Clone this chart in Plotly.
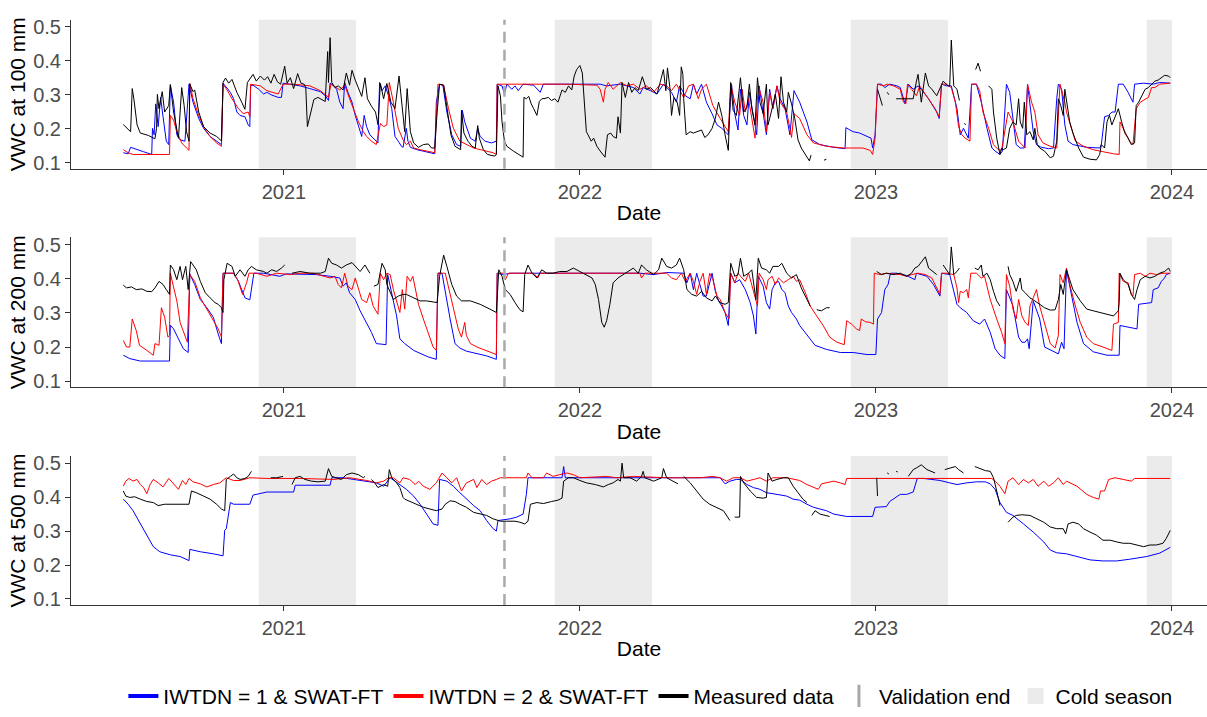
import pandas as pd
import plotly.graph_objects as go

# ---------------- data ----------------
START_DATE = pd.Timestamp("2020-06-17")   # day 0 of every series below

depth_labels = ["VWC at 100 mm", "VWC at 200 mm", "VWC at 500 mm"]
series_names = ["IWTDN = 1 & SWAT-FT", "IWTDN = 2 & SWAT-FT", "Measured data"]
year_ticks = ["2021-01-01", "2022-01-01", "2023-01-01", "2024-01-01"]
year_labels = ["2021", "2022", "2023", "2024"]
vwc_ticks = [0.1, 0.2, 0.3, 0.4, 0.5]
vwc_labels = ["0.1", "0.2", "0.3", "0.4", "0.5"]
cold_start = ["2020-12-01", "2021-12-01", "2022-12-01", "2023-12-01"]
cold_end = ["2021-03-31", "2022-03-31", "2023-03-31", "2024-01-01"]
validation_end = "2021-09-30"

# (day since START_DATE, VWC); None marks a gap
p1_iwtdn1 = [(0,.129),(6,.126),(9,.145),(16,.140),(25,.132),(35,.124),(36,.201),(38,.182),(40,.273),(43,.206),(46,.292),(49,.235),(53,.163),(56,.153),(58,.328),(62,.278),(66,.182),(70,.167),(76,.163),(81,.331),(86,.278),(93,.230),(99,.201),(107,.177),(115,.163),(121,.153),(123,.334),(128,.318),(132,.307),(136,.288),(140,.249),(144,.239),(150,.235),(154,.211),(156,.206),(157,.326),(160,.328),(167,.316),(173,.302),(177,.307),(183,.299),(191,.292),(195,.292),(197,.334),(206,.331),(218,.326),(230,.318),(243,.309),(249,.297),(253,.283),(255,.334),(259,.328),(263,.316),(267,.278),(271,.259),(273,.336),(277,.307),(282,.278),(286,.239),(290,.211),(294,.177),(297,.239),(300,.206),(304,.182),(310,.167),(314,.158),(316,.336),(319,.312),(323,.326),(327,.297),(331,.259),(335,.177),(339,.163),(343,.148),(345,.145),(349,.201),(351,.163),(354,.145),(362,.138),(370,.134),(378,.129),(384,.126),(386,.278),(390,.331),(394,.328),(399,.249),(405,.182),(411,.153),(416,.148),(418,.254),(421,.220),(428,.172),(434,.163),(437,.201),(440,.177),(446,.163),(454,.158),(460,.163),(461,.331),(467,.326),(470,.302),(473,.331),(479,.316),(483,.326),(487,.312),(493,.331),(506,.328),(514,.307),(518,.331),(530,.331),(563,.331),(588,.331),(596,.326),(604,.328),(613,.331),(621,.326),(629,.321),(637,.302),(641,.321),(650,.312),(658,.302),(666,.331),(670,.321),(676,.307),(682,.278),(686,.326),(693,.297),(699,.288),(703,.331),(707,.302),(713,.331),(719,.278),(726,.244),(732,.211),(738,.201),(746,.182),(750,.331),(754,.244),(758,.196),(761,.316),(765,.239),(769,.211),(772,.307),(777,.239),(781,.182),(784,.326),(789,.249),(793,.182),(797,.316),(801,.259),(806,.326),(810,.288),(816,.259),(822,.182),(827,.312),(834,.278),(843,.220),(849,.167),(859,.153),(876,.145),(890,.141),(891,.203),(896,.196),(900,.191),(908,.187),(917,.177),(922,.172),(924,.143),(927,.182),(930,.331),(935,.331),(939,.321),(945,.331),(954,.326),(958,.321),(964,.273),(968,.331),(974,.316),(980,.326),(984,.316),(993,.288),(1003,.249),(1006,.230),(1009,.331),(1015,.326),(1021,.326),(1028,.259),(1032,.182),(1036,.201),(1042,.172),(1046,.331),(1052,.331),(1058,.278),(1065,.201),(1071,.143),(1075,.134),(1081,.124),(1084,.134),(1089,.331),(1093,.307),(1097,.235),(1101,.153),(1106,.143),(1111,.143),(1115,.331),(1119,.259),(1122,.191),(1126,.153),(1132,.145),(1141,.141),(1147,.143),(1151,.288),(1153,.331),(1157,.316),(1161,.211),(1165,.163),(1171,.153),(1188,.145),(1204,.143),(1206,.153),(1210,.235),(1215,.239),(1219,.249),(1223,.249),(1227,.331),(1233,.331),(1239,.307),(1245,.278),(1247,.331),(1258,.334),(1270,.331),(1278,.336),(1291,.334)]

p1_iwtdn2 = [(0,.138),(6,.129),(12,.124),(57,.124),(58,.239),(62,.225),(66,.191),(72,.158),(78,.143),(81,.136),(82,.334),(86,.288),(93,.239),(99,.206),(107,.177),(115,.158),(121,.148),(123,.331),(128,.314),(134,.288),(142,.259),(148,.244),(154,.249),(156,.235),(157,.331),(169,.326),(177,.312),(183,.307),(191,.302),(197,.331),(210,.331),(230,.326),(243,.312),(253,.292),(256,.331),(267,.314),(273,.328),(279,.288),(284,.259),(290,.220),(296,.191),(300,.177),(306,.163),(312,.153),(317,.215),(321,.206),(325,.211),(328,.336),(333,.278),(339,.201),(345,.167),(349,.153),(354,.163),(358,.143),(366,.138),(374,.134),(384,.129),(388,.331),(395,.328),(401,.259),(407,.201),(415,.163),(423,.153),(432,.143),(444,.136),(456,.129),(460,.124),(461,.331),(547,.331),(584,.328),(588,.316),(592,.278),(594,.316),(598,.336),(604,.316),(613,.336),(621,.326),(629,.331),(637,.316),(645,.326),(654,.307),(662,.331),(670,.326),(676,.312),(682,.331),(691,.292),(697,.326),(703,.331),(709,.288),(713,.316),(719,.331),(727,.268),(736,.230),(742,.206),(746,.191),(749,.331),(754,.278),(760,.239),(763,.316),(767,.249),(771,.288),(775,.230),(779,.172),(783,.326),(789,.278),(793,.191),(797,.307),(801,.259),(806,.326),(810,.278),(818,.249),(822,.201),(824,.174),(827,.244),(834,.230),(843,.182),(851,.158),(867,.148),(888,.143),(912,.143),(921,.136),(924,.124),(927,.172),(930,.331),(937,.326),(942,.331),(950,.326),(958,.316),(962,.278),(965,.273),(967,.331),(972,.316),(978,.297),(982,.326),(986,.312),(995,.278),(1001,.259),(1006,.235),(1009,.331),(1015,.331),(1021,.321),(1026,.278),(1030,.206),(1034,.182),(1038,.172),(1044,.163),(1046,.331),(1052,.331),(1056,.312),(1060,.249),(1067,.201),(1073,.153),(1079,.138),(1083,.136),(1091,.249),(1097,.220),(1104,.163),(1112,.143),(1115,.331),(1120,.278),(1124,.249),(1128,.182),(1134,.158),(1143,.148),(1151,.143),(1155,.331),(1161,.278),(1163,.249),(1167,.220),(1174,.163),(1184,.148),(1196,.138),(1204,.134),(1213,.129),(1221,.126),(1228,.124),(1229,.220),(1235,.191),(1241,.163),(1245,.153),(1249,.259),(1254,.278),(1260,.288),(1264,.292),(1268,.321),(1272,.321),(1278,.331),(1291,.334)]

p1_measured = [(0,.212),(6,.196),(9,.191),(11,.318),(13,.288),(17,.211),(21,.187),(31,.180),(39,.170),(41,.201),(42,.301),(44,.259),(48,.309),(51,.249),(56,.268),(58,.330),(62,.249),(68,.172),(72,.321),(75,.268),(78,.191),(81,.163),(82,.331),(86,.309),(88,.314),(93,.249),(99,.206),(107,.187),(115,.177),(121,.164),(123,.336),(126,.349),(130,.334),(134,.345),(140,.307),(146,.278),(150,.257),(153,.336),(160,.360),(164,.340),(169,.355),(174,.343),(178,.353),(182,.334),(186,.360),(190,.338),(194,.331),(199,.384),(202,.334),(206,.350),(210,.318),(215,.362),(219,.334),(223,.331),(225,.321),(227,.206),(231,.244),(235,.286),(240,.292),(245,.286),(249,.280),(252,.427),(253,.336),(255,.468),(257,.336),(261,.321),(265,.326),(271,.314),(275,.364),(279,.328),(282,.372),(286,.343),(290,.318),(294,.295),(298,.350),(301,.288),(306,.266),(311,.249),(314,.212),(317,.333),(321,.288),(325,.333),(330,.278),(335,.259),(340,.355),(345,.244),(347,.191),(350,.318),(354,.191),(358,.158),(364,.145),(370,.153),(376,.155),(380,.143),(384,.143),(387,.249),(390,.331),(395,.328),(399,.259),(404,.182),(409,.148),(416,.138),(417,.254),(420,.187),(425,.163),(430,.148),(434,.143),(437,.209),(439,.172),(444,.138),(449,.124),(454,.122),(458,.119),(460,.124),(462,.326),(465,.297),(467,.220),(470,.163),(473,.148),(481,.134),(487,.124),(493,.116),(494,.292),(497,.288),(500,.295),(503,.273),(506,.259),(510,.239),(513,.280),(516,.288),(520,.289),(524,.292),(528,.283),(532,.288),(536,.278),(541,.314),(545,.307),(549,.326),(553,.314),(556,.355),(559,.374),(563,.386),(566,.364),(569,.259),(571,.191),(573,.182),(577,.163),(580,.172),(584,.148),(588,.134),(592,.122),(594,.116),(597,.182),(601,.187),(604,.177),(608,.172),(610,.235),(613,.187),(615,.336),(619,.292),(623,.336),(627,.307),(631,.321),(635,.312),(640,.353),(645,.316),(650,.321),(654,.312),(658,.302),(662,.336),(666,.374),(669,.312),(671,.379),(674,.321),(676,.239),(679,.292),(683,.278),(686,.239),(688,.382),(690,.360),(691,.288),(694,.182),(699,.191),(703,.187),(708,.191),(713,.196),(717,.174),(721,.182),(726,.201),(730,.230),(734,.278),(738,.239),(742,.182),(746,.136),(749,.336),(752,.254),(756,.239),(760,.326),(761,.350),(765,.249),(769,.263),(772,.331),(775,.259),(779,.211),(782,.350),(785,.278),(789,.244),(793,.331),(795,.211),(800,.259),(804,.302),(808,.230),(811,.353),(814,.278),(818,.249),(820,.307),(824,.273),(828,.230),(832,.167),(836,.143),(841,.124),(846,.105),(848,.122),(849,None),(864,.107),(867,.110),(868,None),(930,.316),(936,.268),(937,None),(942,.307),(944,.300),(945,None),(953,.288),(974,.288),(978,.340),(980,.360),(984,.278),(989,.364),(993,.326),(997,.316),(1003,.297),(1011,.340),(1017,.326),(1019,.326),(1021,.461),(1024,.326),(1028,.316),(1031,.283),(1032,None),(1037,.215),(1039,.212),(1040,None),(1051,.374),(1054,.393),(1057,.369),(1058,None),(1067,.326),(1071,.316),(1073,.249),(1077,.172),(1081,.124),(1083,.143),(1085,.138),(1089,.143),(1093,.201),(1097,.220),(1101,.211),(1104,.288),(1106,.220),(1109,.201),(1111,.278),(1114,.182),(1118,.191),(1122,.167),(1124,.201),(1127,.153),(1130,.143),(1136,.134),(1143,.114),(1147,.119),(1151,.163),(1153,.288),(1156,.268),(1159,.239),(1161,.316),(1163,.278),(1167,.220),(1171,.187),(1178,.143),(1184,.116),(1192,.110),(1200,.108),(1204,.124),(1206,.153),(1210,.143),(1213,.220),(1216,.239),(1219,.211),(1223,.235),(1227,.259),(1231,.220),(1235,.187),(1239,.172),(1243,.153),(1247,.158),(1249,.268),(1252,.278),(1256,.297),(1260,.316),(1264,.321),(1268,.331),(1272,.340),(1276,.343),(1280,.350),(1284,.357),(1289,.355),(1291,.350)]

p2_iwtdn1 = [(0,.176),(8,.166),(21,.159),(57,.159),(58,.264),(62,.253),(68,.224),(74,.195),(80,.184),(82,.414),(88,.383),(95,.339),(103,.315),(111,.287),(117,.238),(121,.210),(123,.416),(136,.416),(142,.392),(150,.344),(156,.338),(161,.416),(173,.416),(181,.412),(193,.407),(201,.414),(218,.413),(238,.412),(255,.407),(267,.402),(271,.378),(275,.388),(279,.359),(286,.339),(292,.306),(300,.272),(306,.243),(312,.210),(324,.207),(326,.412),(331,.359),(337,.291),(341,.224),(347,.210),(358,.190),(366,.181),(376,.171),(386,.164),(388,.416),(393,.416),(399,.330),(403,.282),(409,.210),(415,.197),(423,.188),(436,.181),(448,.174),(460,.164),(461,.416),(469,.412),(477,.416),(588,.416),(637,.416),(654,.412),(670,.418),(691,.416),(695,.388),(699,.416),(703,.368),(707,.416),(711,.378),(715,.349),(719,.349),(726,.416),(730,.363),(734,.335),(738,.320),(742,.301),(746,.263),(749,.416),(754,.388),(760,.397),(767,.368),(773,.330),(777,.291),(780,.238),(783,.407),(789,.378),(793,.330),(797,.311),(800,.368),(804,.388),(808,.392),(812,.368),(816,.359),(820,.320),(824,.301),(830,.282),(834,.263),(843,.234),(853,.205),(867,.193),(884,.184),(900,.184),(917,.178),(928,.178),(930,.282),(935,.301),(939,.368),(943,.383),(946,.416),(954,.416),(966,.409),(976,.397),(978,.416),(991,.407),(999,.383),(1007,.349),(1009,.416),(1019,.412),(1028,.325),(1032,.315),(1040,.301),(1048,.277),(1056,.267),(1062,.282),(1069,.243),(1075,.195),(1081,.176),(1087,.166),(1089,.368),(1097,.320),(1104,.229),(1108,.214),(1112,.214),(1115,.224),(1117,.195),(1122,.335),(1130,.282),(1136,.200),(1147,.186),(1153,.180),(1157,.214),(1160,.195),(1163,.426),(1169,.359),(1176,.272),(1184,.210),(1196,.186),(1213,.176),(1228,.176),(1229,.263),(1239,.258),(1250,.253),(1252,.325),(1268,.330),(1270,.368),(1276,.373),(1280,.392),(1284,.402),(1286,.412),(1291,.416)]

p2_iwtdn2 = [(0,.219),(4,.200),(8,.200),(11,.282),(16,.248),(20,.205),(29,.190),(37,.176),(39,.210),(44,.205),(47,.315),(51,.287),(55,.229),(57,.234),(58,.416),(62,.378),(66,.335),(70,.272),(74,.248),(79,.214),(82,.412),(88,.392),(95,.344),(103,.311),(111,.282),(117,.253),(121,.229),(123,.416),(136,.416),(141,.397),(147,.354),(152,.388),(155,.416),(164,.416),(177,.407),(189,.416),(206,.412),(218,.416),(234,.416),(249,.407),(255,.402),(261,.407),(265,.383),(269,.373),(273,.416),(277,.378),(282,.368),(286,.402),(290,.368),(294,.339),(300,.330),(304,.359),(308,.320),(314,.296),(317,.416),(321,.397),(325,.416),(329,.412),(333,.368),(338,.325),(341,.301),(344,.368),(347,.311),(350,.407),(354,.392),(357,.407),(360,.368),(364,.325),(370,.282),(376,.243),(382,.200),(386,.190),(388,.416),(397,.416),(403,.354),(409,.291),(413,.253),(417,.229),(421,.272),(423,.234),(428,.210),(436,.200),(448,.190),(460,.178),(461,.416),(469,.416),(471,.397),(475,.416),(506,.416),(511,.402),(514,.416),(637,.416),(639,.402),(643,.416),(670,.416),(676,.402),(682,.397),(688,.416),(693,.392),(699,.416),(703,.392),(707,.354),(711,.392),(715,.416),(719,.354),(723,.416),(727,.397),(732,.349),(736,.339),(742,.301),(747,.282),(749,.416),(754,.388),(758,.416),(763,.402),(767,.392),(771,.416),(777,.359),(782,.320),(784,.416),(789,.397),(793,.368),(795,.397),(800,.407),(804,.383),(808,.402),(814,.388),(820,.397),(826,.407),(830,.392),(834,.397),(841,.359),(847,.320),(855,.291),(863,.263),(871,.229),(880,.214),(889,.207),(892,.277),(898,.267),(904,.253),(908,.248),(910,.282),(915,.274),(921,.272),(925,.267),(926,.416),(933,.412),(941,.416),(958,.412),(966,.407),(972,.412),(980,.416),(989,.412),(997,.402),(1003,.373),(1007,.354),(1009,.416),(1015,.416),(1024,.412),(1028,.373),(1030,.330),(1032,.363),(1036,.359),(1040,.368),(1042,.344),(1045,.416),(1052,.416),(1058,.402),(1062,.407),(1069,.339),(1077,.282),(1083,.243),(1087,.210),(1089,.412),(1093,.378),(1097,.311),(1101,.282),(1104,.339),(1108,.291),(1112,.272),(1116,.263),(1118,.320),(1122,.344),(1126,.368),(1130,.320),(1136,.272),(1143,.210),(1149,.197),(1153,.234),(1155,.412),(1159,.388),(1163,.431),(1167,.383),(1174,.320),(1180,.272),(1188,.229),(1196,.210),(1208,.200),(1219,.190),(1221,.267),(1227,.272),(1228,.416),(1233,.392),(1239,.388),(1243,.354),(1245,.349),(1247,.412),(1254,.416),(1260,.407),(1266,.416),(1274,.412),(1282,.416),(1291,.416)]

p2_measured = [(0,.381),(4,.373),(10,.376),(16,.368),(23,.370),(29,.363),(35,.362),(39,.373),(44,.392),(49,.383),(53,.368),(57,.354),(58,.440),(62,.426),(66,.397),(70,.436),(73,.397),(77,.436),(80,.368),(83,.450),(86,.440),(90,.426),(95,.392),(101,.359),(107,.344),(113,.330),(117,.325),(121,.315),(123,.301),(124,.397),(128,.445),(134,.436),(138,.407),(144,.426),(150,.407),(154,.426),(158,.436),(164,.426),(173,.421),(177,.416),(183,.426),(189,.421),(195,.431),(199,.440),(200,None),(208,.416),(218,.421),(230,.416),(243,.416),(249,.421),(253,.460),(257,.445),(263,.440),(269,.431),(275,.440),(282,.447),(286,.436),(292,.421),(298,.440),(304,.416),(305,None),(309,.378),(314,.383),(319,.445),(323,.426),(325,.383),(329,.359),(333,.339),(339,.349),(345,.354),(349,.354),(358,.344),(366,.335),(374,.335),(382,.332),(387,.330),(390,.407),(395,.469),(399,.436),(405,.383),(411,.349),(417,.335),(428,.335),(440,.325),(452,.311),(460,.301),(463,.426),(467,.407),(471,.368),(477,.354),(483,.330),(489,.309),(493,.303),(495,.412),(499,.440),(504,.416),(510,.402),(516,.426),(522,.416),(530,.416),(538,.421),(547,.421),(555,.431),(563,.421),(571,.412),(578,.402),(582,.383),(586,.339),(590,.272),(593,.258),(596,.277),(600,.325),(604,.388),(610,.402),(619,.416),(629,.431),(635,.416),(639,.440),(645,.426),(654,.412),(660,.426),(664,.460),(670,.436),(676,.431),(682,.440),(686,.460),(691,.426),(695,.368),(701,.354),(707,.349),(713,.363),(719,.344),(726,.335),(730,.349),(736,.330),(742,.325),(746,.330),(749,.445),(754,.407),(758,.412),(761,.460),(765,.407),(771,.416),(775,.426),(780,.339),(783,.460),(787,.431),(793,.426),(797,.416),(801,.436),(808,.436),(812,.445),(818,.416),(824,.402),(830,.412),(836,.373),(843,.339),(847,.320),(848,None),(855,.309),(861,.306),(867,.315),(871,.315),(872,None),(929,.421),(935,.412),(941,.416),(949,.412),(958,.416),(966,.407),(972,.416),(976,.431),(980,.436),(984,.450),(989,.464),(993,.431),(999,.421),(1003,.412),(1004,None),(1011,.440),(1015,.426),(1019,.412),(1021,.493),(1024,.412),(1028,.421),(1031,.431),(1032,None),(1050,.431),(1054,.426),(1058,.440),(1060,.407),(1065,.416),(1069,.397),(1073,.363),(1077,.335),(1081,.320),(1082,None),(1091,.436),(1093,.412),(1097,.392),(1101,.363),(1106,.402),(1108,.368),(1112,.359),(1118,.344),(1124,.335),(1130,.325),(1136,.315),(1143,.308),(1149,.309),(1153,.339),(1156,.383),(1159,.354),(1163,.426),(1167,.397),(1171,.368),(1180,.335),(1188,.311),(1196,.306),(1204,.301),(1213,.296),(1221,.291),(1227,.306),(1228,.330),(1229,.416),(1233,.397),(1239,.383),(1243,.354),(1247,.339),(1250,.368),(1254,.397),(1260,.407),(1266,.402),(1272,.407),(1278,.416),(1284,.421),(1289,.431),(1291,.421)]

p3_iwtdn1 = [(0,.394),(6,.379),(12,.360),(21,.321),(29,.288),(37,.254),(45,.239),(58,.230),(70,.225),(81,.213),(82,.246),(95,.239),(111,.233),(123,.227),(125,.302),(127,.307),(132,.384),(136,.379),(156,.379),(160,.406),(177,.415),(210,.415),(212,.435),(255,.435),(257,.457),(271,.457),(284,.452),(300,.447),(312,.442),(321,.432),(329,.457),(335,.447),(341,.437),(349,.423),(358,.403),(366,.379),(374,.350),(382,.321),(388,.317),(390,.452),(399,.447),(407,.432),(415,.413),(423,.394),(432,.375),(440,.360),(448,.331),(456,.307),(460,.300),(462,.331),(477,.336),(485,.341),(493,.350),(497,.408),(499,.457),(541,.457),(543,.490),(545,.457),(723,.457),(727,.458),(736,.457),(742,.439),(748,.447),(756,.452),(761,.452),(769,.437),(777,.428),(785,.423),(793,.413),(801,.410),(810,.406),(818,.403),(826,.394),(834,.391),(843,.379),(851,.370),(859,.365),(867,.360),(876,.350),(892,.343),(924,.343),(927,.370),(941,.372),(945,.387),(958,.408),(966,.408),(974,.415),(979,.455),(987,.455),(999,.452),(1007,.449),(1019,.442),(1028,.437),(1040,.442),(1052,.445),(1063,.445),(1069,.439),(1075,.423),(1081,.384),(1089,.355),(1097,.346),(1110,.321),(1122,.297),(1135,.268),(1143,.244),(1151,.236),(1163,.233),(1176,.225),(1192,.215),(1208,.212),(1225,.212),(1241,.217),(1262,.225),(1278,.235),(1286,.244),(1291,.252)]

p3_iwtdn2 = [(0,.432),(3,.447),(7,.455),(12,.447),(17,.452),(21,.437),(25,.428),(29,.410),(33,.437),(37,.452),(43,.442),(49,.430),(56,.455),(62,.439),(68,.423),(73,.449),(77,.437),(81,.455),(86,.445),(95,.439),(103,.430),(111,.437),(119,.442),(127,.457),(136,.449),(144,.449),(156,.457),(177,.455),(218,.455),(259,.452),(279,.457),(300,.449),(312,.442),(321,.447),(327,.457),(333,.457),(341,.442),(345,.457),(353,.452),(360,.437),(364,.447),(370,.432),(378,.423),(386,.442),(393,.471),(399,.457),(405,.442),(411,.457),(417,.418),(423,.442),(432,.452),(436,.428),(442,.452),(448,.437),(454,.447),(460,.452),(465,.457),(497,.457),(499,.471),(504,.457),(518,.457),(522,.471),(530,.461),(538,.466),(547,.471),(555,.466),(563,.457),(596,.461),(608,.457),(629,.461),(670,.457),(711,.457),(727,.461),(736,.457),(744,.447),(752,.457),(761,.457),(769,.447),(777,.452),(785,.457),(793,.447),(801,.457),(818,.457),(826,.452),(834,.449),(843,.437),(851,.428),(857,.423),(861,.439),(867,.442),(876,.447),(884,.442),(890,.437),(892,.455),(1071,.455),(1075,.447),(1081,.432),(1087,.410),(1091,.447),(1097,.457),(1104,.437),(1110,.452),(1116,.442),(1122,.452),(1128,.432),(1135,.447),(1141,.432),(1147,.442),(1153,.457),(1159,.437),(1163,.447),(1176,.432),(1188,.408),(1196,.399),(1203,.394),(1205,.418),(1210,.418),(1215,.452),(1223,.457),(1233,.452),(1243,.447),(1247,.455),(1291,.455)]

p3_measured = [(0,.418),(3,.403),(8,.399),(14,.401),(21,.394),(29,.387),(37,.384),(43,.375),(51,.379),(62,.379),(72,.381),(81,.379),(84,.418),(90,.413),(99,.403),(107,.394),(115,.379),(121,.365),(125,.360),(127,.452),(132,.461),(136,.468),(140,.457),(144,.452),(150,.455),(154,.461),(158,.476),(159,None),(182,.457),(189,.457),(197,.461),(198,None),(208,.437),(212,.457),(218,.461),(224,.452),(232,.447),(240,.445),(249,.447),(253,.484),(257,.461),(263,.457),(269,.452),(275,.466),(282,.471),(290,.466),(296,.457),(298,.461),(299,None),(306,.452),(310,.442),(314,.428),(321,.437),(326,.432),(328,.481),(331,.457),(337,.442),(341,.428),(345,.399),(347,.394),(354,.387),(362,.379),(370,.370),(378,.365),(386,.360),(393,.365),(397,.379),(403,.389),(409,.387),(415,.379),(423,.370),(432,.355),(440,.350),(448,.346),(456,.336),(465,.329),(473,.329),(483,.329),(489,.326),(495,.321),(499,.329),(502,.379),(510,.384),(518,.381),(528,.387),(536,.391),(541,.397),(543,.447),(549,.457),(555,.457),(563,.449),(571,.442),(582,.437),(592,.430),(598,.437),(604,.442),(610,.452),(613,.447),(615,.500),(617,.457),(625,.457),(633,.447),(639,.461),(641,.476),(643,.457),(654,.447),(664,.457),(666,.484),(670,.457),(678,.447),(684,.439),(685,None),(691,.461),(699,.442),(707,.418),(715,.394),(723,.379),(732,.370),(740,.360),(748,.331),(749,None),(754,.341),(760,.341),(761,.461),(765,.442),(773,.418),(781,.399),(789,.397),(793,.399),(795,.471),(800,.447),(806,.452),(814,.457),(820,.457),(826,.432),(832,.413),(838,.394),(843,.384),(844,None),(849,.346),(853,.360),(859,.350),(865,.346),(871,.343),(872,None),(929,.457),(930,.403),(931,None),(942,.471),(944,.468),(945,None),(953,.476),(955,.474),(956,None),(968,.461),(974,.481),(978,.486),(984,.495),(991,.481),(997,.476),(1001,.471),(1002,None),(1013,.481),(1019,.486),(1026,.490),(1030,.481),(1036,.471),(1037,None),(1050,.490),(1056,.484),(1063,.478),(1069,.476),(1073,.457),(1077,.418),(1081,.375),(1082,None),(1091,.326),(1097,.341),(1101,.346),(1108,.348),(1118,.346),(1126,.336),(1135,.326),(1143,.312),(1151,.307),(1159,.307),(1162,.292),(1165,.321),(1171,.326),(1178,.321),(1184,.307),(1192,.297),(1200,.288),(1208,.273),(1217,.273),(1225,.268),(1233,.264),(1241,.264),(1250,.259),(1258,.254),(1266,.259),(1274,.259),(1282,.264),(1286,.278),(1291,.302)]

# ---------------- figure ----------------
FONT = "Liberation Sans, Arial, sans-serif"
SERIES_COLORS = ["#0000FF", "#FF0000", "#000000"]
SHADE = "#EBEBEB"
VLINE = "#A9A9A9"
AXIS = "#333333"


def to_xy(pairs):
    x = [START_DATE + pd.Timedelta(days=d) for d, _ in pairs]
    y = [v for _, v in pairs]
    return x, y


panels = [
    (p1_iwtdn1, p1_iwtdn2, p1_measured),
    (p2_iwtdn1, p2_iwtdn2, p2_measured),
    (p3_iwtdn1, p3_iwtdn2, p3_measured),
]
y_domains = [(0.7657, 0.9777), (0.4547, 0.6681), (0.1450, 0.3570)]
x_range = ["2020-04-13 12:00", "2024-02-13 07:00"]
y_range = [0.082, 0.521]

fig = go.Figure()
shapes = []
for i, group in enumerate(panels, start=1):
    xa = "x" if i == 1 else f"x{i}"
    ya = "y" if i == 1 else f"y{i}"
    for pairs, color, name in zip(group, SERIES_COLORS, series_names):
        x, y = to_xy(pairs)
        fig.add_trace(go.Scatter(
            x=x, y=y, mode="lines", name=name, showlegend=False,
            line=dict(color=color, width=1), xaxis=xa, yaxis=ya,
            hoverinfo="skip", connectgaps=False))
    for s, e in zip(cold_start, cold_end):
        shapes.append(dict(type="rect", xref=xa, yref=f"{ya} domain",
                           x0=s, x1=e, y0=0, y1=1, fillcolor=SHADE,
                           line=dict(width=0), layer="below"))
    shapes.append(dict(type="line", xref=xa, yref=f"{ya} domain",
                       x0=validation_end, x1=validation_end, y0=0, y1=1,
                       line=dict(color=VLINE, width=2.5, dash="11px,7px"),
                       layer="above"))

    axis_common = dict(showline=True, linecolor=AXIS, linewidth=1.1,
                       ticks="outside", ticklen=5, tickwidth=1.1,
                       tickcolor=AXIS, showgrid=False, zeroline=False,
                       tickfont=dict(size=20, color="#4D4D4D", family=FONT))
    fig.layout[f"xaxis{'' if i == 1 else i}"] = dict(
        axis_common, domain=[0, 1], anchor=ya, type="date", range=x_range,
        tickmode="array", tickvals=year_ticks, ticktext=year_labels,
        title=dict(text="Date", font=dict(size=21, color="black", family=FONT),
                   standoff=3))
    fig.layout[f"yaxis{'' if i == 1 else i}"] = dict(
        axis_common, domain=list(y_domains[i - 1]), anchor=xa, range=y_range,
        tickmode="array", tickvals=vwc_ticks, ticktext=vwc_labels,
        title=dict(text=depth_labels[i - 1],
                   font=dict(size=21, color="black", family=FONT), standoff=1))

# legend-only entries
fig.add_trace(go.Scatter(x=[None], y=[None], mode="lines", name=series_names[0],
                         line=dict(color=SERIES_COLORS[0], width=4)))
fig.add_trace(go.Scatter(x=[None], y=[None], mode="lines", name=series_names[1],
                         line=dict(color=SERIES_COLORS[1], width=4)))
fig.add_trace(go.Scatter(x=[None], y=[None], mode="lines", name=series_names[2],
                         line=dict(color=SERIES_COLORS[2], width=4)))
fig.add_trace(go.Scatter(x=[None], y=[None], mode="markers", name="Validation end",
                         marker=dict(symbol="line-ns", size=16, color=VLINE,
                                     line=dict(color=VLINE, width=3))))
fig.add_trace(go.Scatter(x=[None], y=[None], mode="markers", name="Cold season",
                         marker=dict(symbol="square", size=16, color=SHADE,
                                     line=dict(width=0))))

fig.update_layout(
    width=1207, height=717,
    margin=dict(l=71, r=0, t=0, b=0),
    paper_bgcolor="white", plot_bgcolor="white",
    font=dict(family=FONT, color="black"),
    shapes=shapes,
    showlegend=True,
    legend=dict(orientation="h", x=0.51, xanchor="center", y=0.0153,
                yanchor="middle", font=dict(size=21, color="black", family=FONT),
                bgcolor="rgba(0,0,0,0)", itemwidth=30),
)

fig.write_html("out.html")
